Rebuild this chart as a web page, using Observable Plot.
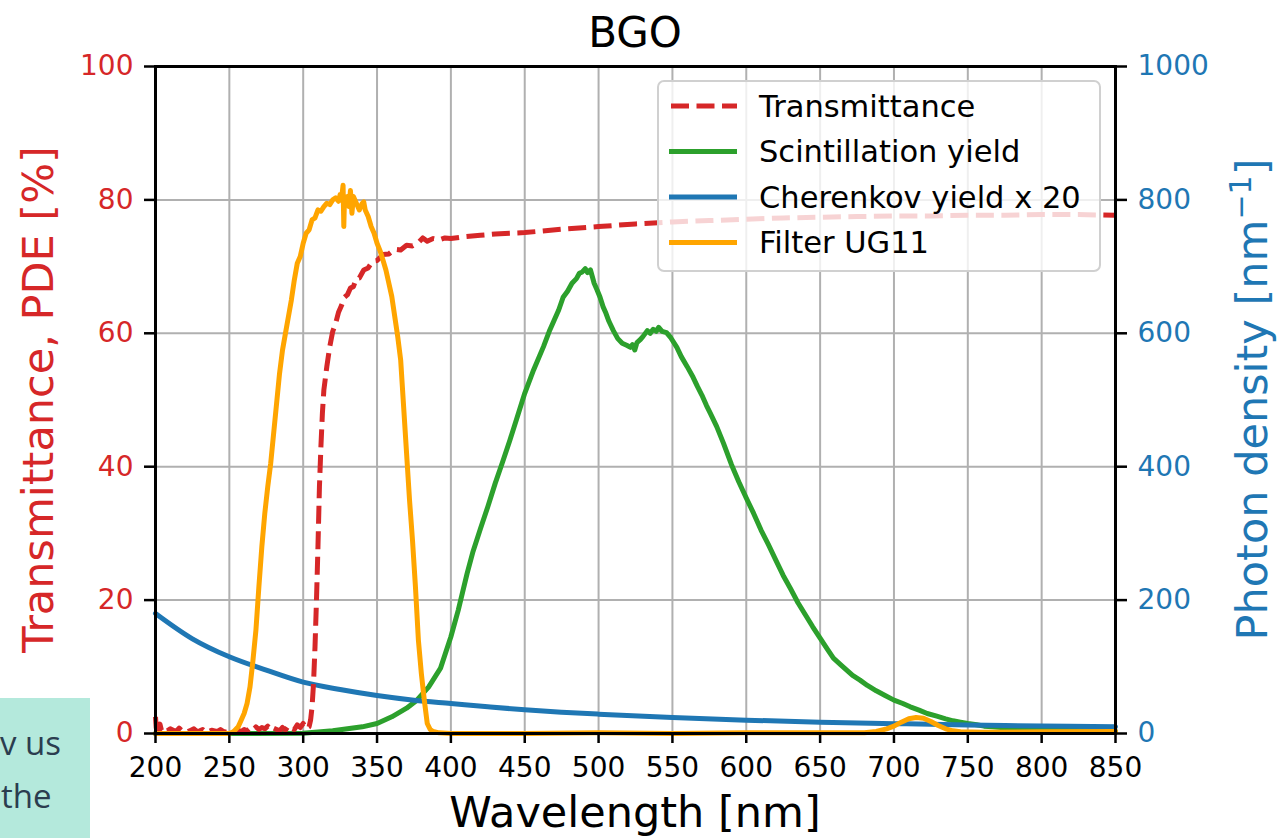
<!DOCTYPE html>
<html><head><meta charset="utf-8">
<script src="https://cdn.jsdelivr.net/npm/d3@7"></script>
<script src="https://cdn.jsdelivr.net/npm/@observablehq/plot@0.6"></script>
<style>
html,body{margin:0;padding:0;background:#fff;}
#wrap{position:relative;width:1279px;height:838px;overflow:hidden;}
#note{position:absolute;left:0;top:698px;}
</style></head><body><div id="wrap"></div>
<script>
// ---------- data ----------
const xTicks = [200,250,300,350,400,450,500,550,600,650,700,750,800,850];
const leftTicks = [0,20,40,60,80,100];
const rightTickLabels = ["0","200","400","600","800","1000"];
const legendLabels = ["Transmittance","Scintillation yield","Cherenkov yield x 20","Filter UG11"];

// Transmittance [%] (left axis)
const transmittance = [[200,2.5],[200.5,0.8],[201,2.2],[202,0.6],[203,1.4],[204,0.5],[206,0.9],[208,0.4],[210,0.7],[212,0.5],[214,0.3],[216,0.8],[218,0.4],[220,0.6],[222,0.3],[224,0.5],[226,0.7],[228,0.3],[230,0.4],[232,0.6],[234,0.2],[236,0.3],[238,0.5],[240,0.4],[242,0.3],[244,0.6],[246,0.3],[248,0.2],[250,0.4],[252,0.2],[254,0.3],[256,0.5],[258,0.3],[260,0.6],[262,0.4],[264,0.8],[266,0.5],[268,1.0],[270,0.6],[272,0.9],[274,0.7],[276,1.1],[278,0.5],[280,0.8],[282,0.6],[284,0.4],[286,0.9],[288,0.5],[290,1.2],[292,0.8],[294,0.6],[296,1.3],[298,0.9],[300,1.5],[302,0.7],[304,1.0],[305,2],[306,4],[307,7.5],[308,13],[309,20],[310,28],[311,37],[312,43],[313,48],[314,51.5],[316,55],[318,58],[320,60.3],[322,61.5],[324,63.2],[326,64.2],[328,65.4],[330,65.8],[332,66.8],[334,67],[336,68.2],[338,68.3],[341,69.5],[344,69.8],[347,70.8],[350,70.9],[354,71.8],[358,71.9],[362,72.6],[366,72.5],[370,73.2],[374,73.1],[378,73.6],[381,74.3],[384,73.8],[388,74.2],[392,74.0],[396,74.3],[400,74.2],[410,74.5],[420,74.7],[430,74.9],[440,75.0],[450,75.1],[475,75.6],[500,76.0],[525,76.4],[550,76.7],[575,76.9],[600,77.1],[625,77.3],[650,77.4],[675,77.5],[700,77.6],[725,77.6],[750,77.7],[775,77.7],[800,77.8],[825,77.8],[850,77.7]];

// Scintillation yield (left axis units)
const scintillation = [[200,0],[250,0],[300,0.05],[320,0.4],[330,0.7],[340,1],[350,1.5],[360,2.5],[370,3.8],[377,5],[385,7],[393,9.8],[400,14.5],[405,18.5],[411,24],[415,27.3],[420,30.7],[425,34],[430,37.5],[435,40.7],[440,44],[445,47.5],[450,51],[456,54.5],[462.7,58],[467,60.5],[470,62],[473,63.5],[476,65.4],[479,66.3],[482,67.5],[485,68.2],[487,69],[489,69.2],[491,69.7],[492.5,69.1],[494.5,69.5],[497,67.5],[499,66.5],[501,65.4],[503,64],[505,63],[507,61.8],[510,60.4],[513,59.2],[516,58.5],[519,58.2],[521.6,57.9],[523,58.3],[524.5,57.5],[526,58.6],[528,59],[530,59.5],[533,60.4],[535,60.0],[537,60.6],[539,60.3],[540.7,60.9],[543,60.3],[546,60.1],[549,59.3],[553,57.9],[556,56.5],[560,55],[564,53.4],[567,52],[570,50.7],[573,49.2],[575.7,48],[580,46],[584.6,43.5],[590,40.3],[595,37.7],[600,35.3],[605,33],[610,30.5],[615,28.3],[620,26],[625,23.7],[630,21.7],[635,19.6],[640,17.8],[645,16],[650,14.3],[655,12.6],[659,11.3],[664,10.3],[668,9.5],[672,8.7],[677,8],[682,7.2],[688,6.4],[694,5.7],[700,5],[706,4.5],[711,4],[717,3.5],[722.5,3],[729,2.6],[735,2.2],[740,1.9],[745,1.7],[750,1.5],[756,1.3],[761,1.1],[767,1],[778,0.8],[790,0.7],[810,0.5],[835,0.4],[850,0.35]];

// Cherenkov yield x 20, photon density [nm^-1] (right axis)
const cherenkov = [[200,180],[225,142],[250,115],[275,95],[300,77],[325,66],[350,57],[375,50],[400,45],[425,40],[450,35.5],[475,32],[500,29],[550,24],[600,20],[650,17],[700,14.8],[750,12.8],[800,11.3],[850,10]];

// Filter UG11 [%] (left axis)
const filterUG11 = [[200,0],[250,0],[253,0.3],[256,1],[258,2],[260,3],[262,4.5],[264,7],[266,11],[268,15.5],[270,22],[272,28],[274,33],[276,37],[278,40.5],[280,45],[282,49.5],[284,54],[286,57.5],[288,60],[290,62.5],[292,65],[294,68],[296,70.5],[298,71.5],[300,73.5],[302,75],[304,75.5],[306,77],[308,77.3],[310,78.5],[312,78.3],[314,79],[316,79.5],[318,79.3],[320,80],[322,80.3],[324,79.8],[325,80.8],[326,80.2],[327,82.2],[327.5,76],[328,80.5],[329,79.5],[330,80.5],[331,79],[332,81.4],[333,78],[334,80.5],[336,79.5],[338,78.5],[340,79.5],[341,79.7],[342,78.5],[344,77.5],[346,76],[348,75],[350,73.5],[352,72.4],[354,71],[356,69.5],[358,67.5],[360,65.5],[362,62.5],[364,59.5],[366,56],[368,49],[370,42],[372,35],[374,29],[376,22],[378,14],[380,9],[382,5],[384,1.5],[386,0.6],[388,0.3],[392,0.1],[400,0],[450,0],[500,0.1],[550,0],[600,0.1],[650,0.1],[680,0.1],[688,0.3],[695,0.7],[700,1.1],[705,1.7],[710,2.2],[715,2.4],[720,2.3],[725,1.8],[730,1.2],[735,0.7],[740,0.4],[745,0.25],[760,0.2],[800,0.25],[850,0.3]];

// ---------- styles ----------
const RED = "#d62728", GREEN = "#2ca02c", BLUE = "#1f77b4", ORANGE = "#ffa500";
const LW = 5;
const DASH = "18,7.5";
const FONT = "DejaVu Sans";
const TICKFONT = 28;

const W = 1279, H = 838, mL = 155, mR = 164, mT = 66, mB = 105;

const plot = Plot.plot({
  width: W, height: H,
  marginLeft: mL, marginRight: mR, marginTop: mT, marginBottom: mB,
  style: {fontFamily: FONT, background: "#fff", overflow: "visible", color: "black"},
  x: {domain: [200, 850]},
  y: {domain: [0, 100]},
  marks: [
    Plot.gridX(xTicks, {stroke: "#b0b0b0", strokeOpacity: 1, strokeWidth: 2}),
    Plot.gridY(leftTicks, {stroke: "#b0b0b0", strokeOpacity: 1, strokeWidth: 2}),
    Plot.line(scintillation, {x: d => d[0], y: d => d[1], stroke: GREEN, strokeWidth: LW}),
    Plot.line(cherenkov, {x: d => d[0], y: d => d[1] / 10, stroke: BLUE, strokeWidth: LW, curve: "monotone-x"}),
    Plot.line(transmittance, {x: d => d[0], y: d => d[1], stroke: RED, strokeWidth: LW, strokeDasharray: DASH, strokeLinecap: "butt"}),
    Plot.line(filterUG11, {x: d => d[0], y: d => d[1], stroke: ORANGE, strokeWidth: LW}),
    Plot.frame({stroke: "black", strokeWidth: 3}),
    Plot.axisX({ticks: xTicks, tickSize: 10, tickPadding: 14, strokeWidth: 2.5, fontSize: TICKFONT, label: null, tickFormat: d => String(d)}),
    Plot.axisY({ticks: leftTicks, tickSize: 11, strokeWidth: 2.5, tickFormat: () => "", label: null}),
    Plot.axisY({ticks: leftTicks, tickSize: 0, tickPadding: 22, fill: RED, fontSize: TICKFONT, label: null, tickFormat: d => String(d)}),
    Plot.axisY({anchor: "right", ticks: leftTicks, tickSize: 11, strokeWidth: 2.5, tickFormat: () => "", label: null}),
    Plot.axisY({anchor: "right", ticks: leftTicks, tickSize: 0, tickPadding: 22, fill: BLUE, fontSize: TICKFONT, label: null,
      tickFormat: d => rightTickLabels[leftTicks.indexOf(d)]})
  ]
});

document.getElementById("wrap").appendChild(plot);
const svg = d3.select(plot);

// title
svg.append("text").attr("x", (mL + W - mR) / 2).attr("y", 47).attr("text-anchor", "middle")
  .attr("font-family", FONT).attr("font-size", 42).attr("fill", "black").text("BGO");
// x label
svg.append("text").attr("x", (mL + W - mR) / 2).attr("y", 827).attr("text-anchor", "middle")
  .attr("font-family", FONT).attr("font-size", 43).attr("fill", "black").text("Wavelength [nm]");
// left y label
svg.append("text").attr("transform", `translate(53,${(mT + H - mB) / 2}) rotate(-90)`).attr("text-anchor", "middle")
  .attr("font-family", FONT).attr("font-size", 43).attr("fill", RED).text("Transmittance, PDE [%]");
// right y label
const rl = svg.append("text").attr("transform", `translate(1267,${(mT + H - mB) / 2}) rotate(-90)`).attr("text-anchor", "middle")
  .attr("font-family", FONT).attr("font-size", 43).attr("fill", BLUE);
rl.append("tspan").text("Photon density [nm");
rl.append("tspan").attr("font-size", 30).attr("dy", -16).text("\u22121");
rl.append("tspan").attr("dy", 16).text("]");

// legend
const lg = svg.append("g").attr("transform", "translate(658,81)");
lg.append("rect").attr("width", 442).attr("height", 190).attr("rx", 6)
  .attr("fill", "white").attr("fill-opacity", 0.8).attr("stroke", "#d0d0d0").attr("stroke-width", 2);
const legendStyles = [[RED, DASH], [GREEN, null], [BLUE, null], [ORANGE, null]];
legendLabels.forEach((lab, i) => {
  const y = 25 + i * 45.5;
  const ln = lg.append("line").attr("x1", 11).attr("x2", 79).attr("y1", y).attr("y2", y)
    .attr("stroke", legendStyles[i][0]).attr("stroke-width", LW);
  if (legendStyles[i][1]) ln.attr("stroke-dasharray", legendStyles[i][1]).attr("stroke-dashoffset", -2);
  lg.append("text").attr("x", 101).attr("y", y).attr("dy", "0.36em").attr("text-anchor", "start")
    .attr("font-family", FONT).attr("font-size", 30.5).attr("fill", "black").text(lab);
});

// partial overlay box seen at the bottom left of the screenshot
const note = d3.select("#wrap").append("svg").attr("id", "note").attr("width", 90).attr("height", 140);
note.append("rect").attr("width", 90).attr("height", 140).attr("fill", "#b4e9dc");
note.append("text").attr("x", 0).attr("y", 57).attr("text-anchor", "start").attr("font-family", "Open Sans")
  .attr("font-size", 33).attr("fill", "#2b3d4f").text("v us");
note.append("text").attr("x", 1).attr("y", 110).attr("text-anchor", "start").attr("font-family", "Open Sans")
  .attr("font-size", 33).attr("fill", "#2b3d4f").text("the");
</script></body></html>
